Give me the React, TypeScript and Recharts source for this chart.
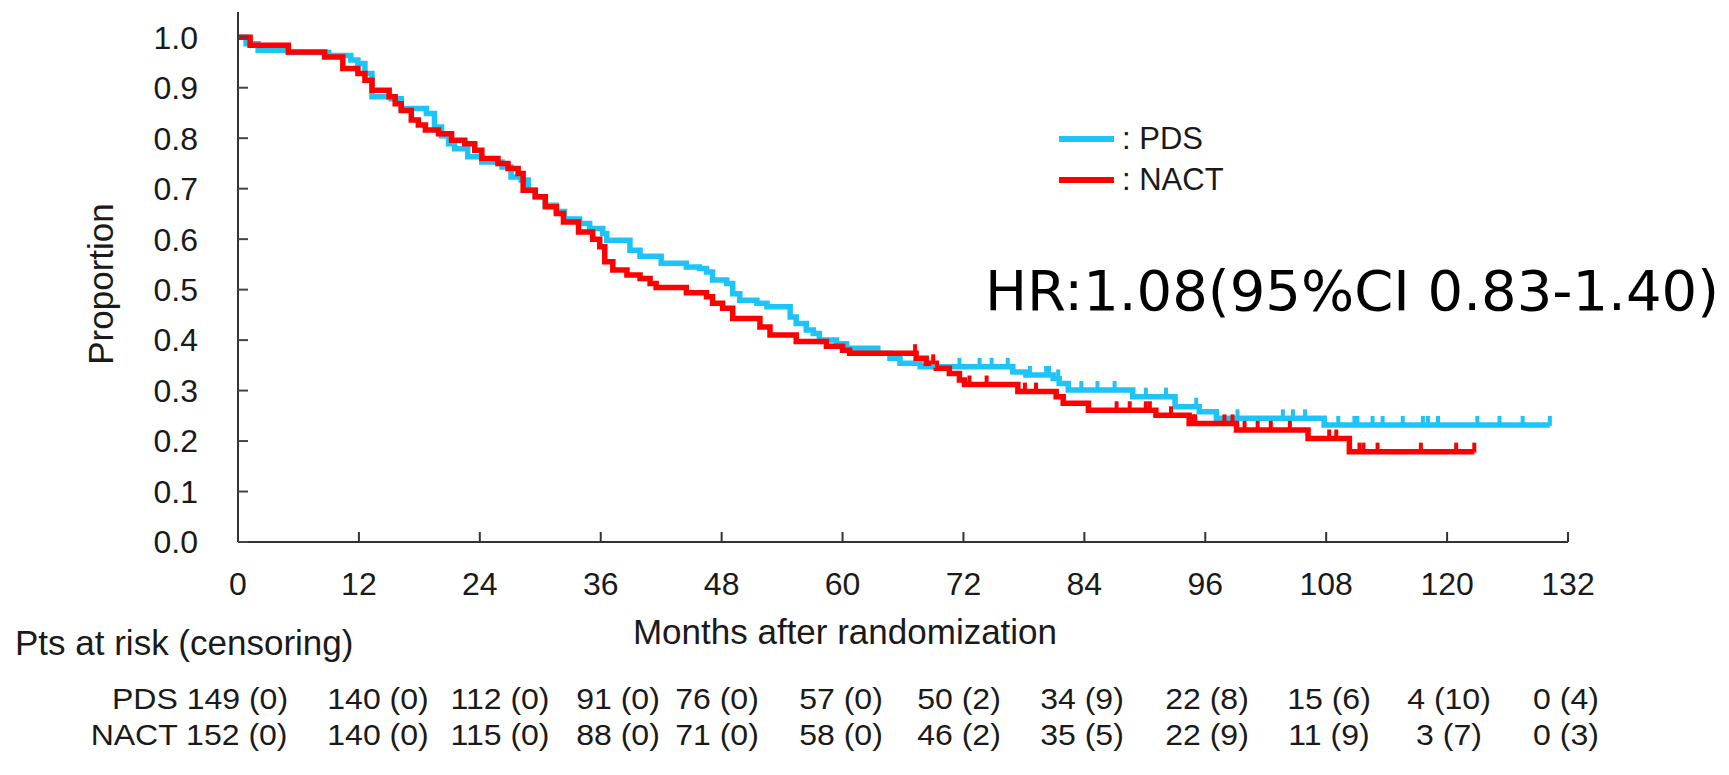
import { ComposedChart, Line, Scatter, XAxis, YAxis } from 'recharts'

// axis ticks
const monthTicks = [0, 12, 24, 36, 48, 60, 72, 84, 96, 108, 120, 132]
const propTicks = [0, 0.1, 0.2, 0.3, 0.4, 0.5, 0.6, 0.7, 0.8, 0.9, 1.0]

// PDS Kaplan-Meier steps (month, proportion)
const pdsTime = [0, 0.8, 2.0, 5.0, 9.0, 11.2, 11.9, 12.6, 13.3, 15.2, 16.2, 18.7, 19.5, 20.2, 20.9, 21.5, 22.8, 24.2, 26.2, 27.1, 28.1, 28.8, 29.5, 30.5, 31.6, 32.4, 33.9, 34.9, 36.2, 36.6, 38.9, 39.9, 42.0, 44.5, 45.8, 46.5, 47.1, 48.5, 49.1, 49.8, 51.5, 52.5, 54.8, 55.4, 56.4, 57.1, 57.7, 59.4, 60.4, 63.5, 64.7, 65.7, 67.7, 76.9, 78.2, 80.9, 81.5, 82.4, 88.8, 93.0, 95.4, 97.1, 107.8, 130.2]
const pdsSurv = [1.0, 0.987, 0.974, 0.970, 0.964, 0.955, 0.948, 0.928, 0.882, 0.878, 0.859, 0.849, 0.822, 0.805, 0.789, 0.779, 0.763, 0.753, 0.743, 0.723, 0.717, 0.697, 0.684, 0.667, 0.655, 0.640, 0.631, 0.621, 0.611, 0.598, 0.578, 0.566, 0.552, 0.545, 0.542, 0.535, 0.519, 0.512, 0.492, 0.479, 0.473, 0.466, 0.446, 0.433, 0.420, 0.413, 0.400, 0.393, 0.384, 0.374, 0.364, 0.354, 0.347, 0.337, 0.331, 0.324, 0.314, 0.301, 0.288, 0.268, 0.258, 0.245, 0.232, 0.232]
const pdsCensor = [69.0, 71.6, 73.6, 74.8, 76.4, 78.6, 80.2, 80.5, 81.4, 83.7, 85.3, 87.0, 90.1, 92.1, 95.1, 99.2, 103.7, 104.7, 105.9, 109.2, 110.8, 111.1, 112.6, 113.6, 115.6, 117.6, 118.1, 119.1, 123.0, 125.2, 127.5, 130.2]

// NACT
const nactTime = [0, 1.2, 5.0, 8.6, 10.4, 11.9, 12.6, 13.3, 15.0, 15.6, 16.2, 17.2, 17.9, 18.6, 19.9, 21.2, 22.5, 23.5, 24.2, 25.8, 26.8, 27.8, 28.3, 29.5, 30.5, 31.6, 32.3, 33.8, 35.2, 35.9, 36.4, 37.2, 38.6, 39.9, 40.9, 41.5, 44.5, 46.5, 47.1, 48.1, 49.1, 51.8, 52.8, 55.4, 58.4, 60.0, 60.7, 67.3, 68.3, 69.3, 70.6, 71.6, 72.1, 77.4, 81.2, 81.9, 84.4, 91.1, 94.4, 99.1, 106.2, 110.3, 122.7]
const nactSurv = [1.0, 0.984, 0.971, 0.961, 0.938, 0.928, 0.915, 0.895, 0.882, 0.868, 0.855, 0.836, 0.826, 0.816, 0.809, 0.796, 0.789, 0.776, 0.760, 0.750, 0.740, 0.730, 0.697, 0.684, 0.664, 0.651, 0.634, 0.614, 0.600, 0.585, 0.555, 0.539, 0.529, 0.522, 0.512, 0.504, 0.494, 0.486, 0.473, 0.463, 0.443, 0.426, 0.410, 0.397, 0.388, 0.380, 0.374, 0.364, 0.354, 0.344, 0.334, 0.321, 0.312, 0.298, 0.288, 0.275, 0.261, 0.251, 0.235, 0.222, 0.205, 0.179, 0.179]
const nactCensor = [67.2, 69.0, 72.6, 74.3, 78.1, 79.2, 87.2, 88.5, 90.1, 90.5, 92.6, 94.8, 95.0, 97.9, 98.7, 99.9, 101.2, 102.5, 104.4, 108.3, 109.0, 111.3, 111.7, 113.1, 117.4, 120.9, 122.7]

// numbers at risk (censoring) table
const pdsAtRisk = [149, 140, 112, 91, 76, 57, 50, 34, 22, 15, 4, 0]
const pdsCens = [0, 0, 0, 0, 0, 0, 2, 9, 8, 6, 10, 4]
const nactAtRisk = [152, 140, 115, 88, 71, 58, 46, 35, 22, 11, 3, 0]
const nactCens = [0, 0, 0, 0, 0, 0, 2, 5, 9, 9, 7, 3]

const BLUE = '#1ec4f7'
const RED = '#ff0000'
const INK = '#1a1a1a'
const FONT = '"Liberation Sans", Arial, sans-serif'

const W = 1729
const H = 775
const PLOT_LEFT = 238
const PLOT_RIGHT = 1568

// the risk-table columns in the original are not exactly under the ticks
const riskNudge = [0, 19, 20, 17, -5, -2, -4, -2, 2, 3, 2, -2]
const RISK_FONT = 30
const RISK_STRETCH = 1.067

function toPoints(t: number[], s: number[]) {
  return t.map((x, i) => ({ x, y: s[i] }))
}

// y of the step curve at month m
function survAt(t: number[], s: number[], m: number) {
  let v = s[0]
  for (let i = 0; i < t.length; i++) if (t[i] <= m) v = s[i]
  return v
}

const pdsData = toPoints(pdsTime, pdsSurv)
const nactData = toPoints(nactTime, nactSurv)
const pdsCensorData = pdsCensor.map(m => ({ x: m, y: survAt(pdsTime, pdsSurv, m) }))
const nactCensorData = nactCensor.map(m => ({ x: m, y: survAt(nactTime, nactSurv, m) }))

const censorMark = (color: string) => (props: any) => {
  const { cx, cy } = props
  if (cx == null || cy == null) return <g />
  return <line x1={cx} y1={cy + 1} x2={cx} y2={cy - 9} stroke={color} strokeWidth={4} />
}

function monthX(m: number) {
  return PLOT_LEFT + (m / 132) * (PLOT_RIGHT - PLOT_LEFT)
}

const txt = (extra: React.CSSProperties): React.CSSProperties => ({
  position: 'absolute',
  fontFamily: FONT,
  color: INK,
  lineHeight: 0.9,
  whiteSpace: 'nowrap',
  ...extra,
})

function RiskRow({ label, atRisk, cens, y }: { label: string; atRisk: number[]; cens: number[]; y: number }) {
  return (
    <>
      {atRisk.map((n, i) => {
        const s = `${n} (${cens[i]})`
        if (i === 0) {
          return (
            <div
              key={i}
              style={txt({
                fontSize: RISK_FONT,
                right: W - 288,
                top: y,
                transformOrigin: 'right center',
                transform: `translateY(-50%) scaleX(${RISK_STRETCH})`,
              })}
            >
              {label} {s}
            </div>
          )
        }
        return (
          <div
            key={i}
            style={txt({
              fontSize: RISK_FONT,
              left: monthX(monthTicks[i]) + riskNudge[i],
              top: y,
              transform: `translate(-50%, -50%) scaleX(${RISK_STRETCH})`,
            })}
          >
            {s}
          </div>
        )
      })}
    </>
  )
}

export default function App() {
  return (
    <div style={{ position: 'absolute', left: 0, top: 0, width: W, height: H, background: '#fff', overflow: 'hidden' }}>
      <ComposedChart width={W} height={H} margin={{ top: 12, right: W - PLOT_RIGHT, bottom: 173, left: 178 }}>
        <XAxis
          dataKey="x"
          type="number"
          domain={[0, 132]}
          ticks={monthTicks}
          interval={0}
          allowDataOverflow
          height={60}
          tickSize={-10}
          tickMargin={40}
          axisLine={{ stroke: '#333', strokeWidth: 2 }}
          tickLine={{ stroke: '#333', strokeWidth: 2 }}
          tick={{ fill: INK, fontSize: 32, fontFamily: FONT }}
        />
        <YAxis
          dataKey="y"
          type="number"
          domain={[0, 1.05]}
          ticks={propTicks}
          interval={0}
          allowDataOverflow
          width={60}
          tickSize={-10}
          tickMargin={50}
          tickFormatter={(v: number) => v.toFixed(1)}
          axisLine={{ stroke: '#333', strokeWidth: 2 }}
          tickLine={{ stroke: '#444', strokeWidth: 2 }}
          tick={{ fill: INK, fontSize: 32, fontFamily: FONT }}
        />
        <Line data={pdsData} dataKey="y" type="stepAfter" stroke={BLUE} strokeWidth={5.5} dot={false} isAnimationActive={false} />
        <Scatter data={pdsCensorData} dataKey="y" shape={censorMark(BLUE)} isAnimationActive={false} />
        <Line data={nactData} dataKey="y" type="stepAfter" stroke={RED} strokeWidth={5.5} dot={false} isAnimationActive={false} />
        <Scatter data={nactCensorData} dataKey="y" shape={censorMark(RED)} isAnimationActive={false} />
      </ComposedChart>

      {/* legend */}
      <div style={{ position: 'absolute', left: 1059, top: 136, width: 55, height: 6, background: BLUE }} />
      <div style={{ position: 'absolute', left: 1059, top: 177, width: 55, height: 6, background: RED }} />
      <div style={txt({ fontSize: 31, left: 1122, top: 139, transform: 'translateY(-50%)' })}>: PDS</div>
      <div style={txt({ fontSize: 31, left: 1122, top: 180, transform: 'translateY(-50%)' })}>: NACT</div>

      <div style={txt({ fontSize: 56, left: 985, top: 291, transform: 'translateY(-50%)', fontFamily: '"DejaVu Sans", sans-serif', color: '#000' })}>
        HR:1.08(95%CI 0.83-1.40)
      </div>

      {/* axis titles */}
      <div style={txt({ fontSize: 35, left: 101, top: 284, transform: 'translate(-50%, -50%) rotate(-90deg)' })}>Proportion</div>
      <div style={txt({ fontSize: 35, left: 845, top: 632, transform: 'translate(-50%, -50%)' })}>Months after randomization</div>

      {/* risk table */}
      <div style={txt({ fontSize: 35, left: 15, top: 643, transform: 'translateY(-50%)' })}>Pts at risk (censoring)</div>
      <RiskRow label="PDS" atRisk={pdsAtRisk} cens={pdsCens} y={698} />
      <RiskRow label="NACT" atRisk={nactAtRisk} cens={nactCens} y={734} />
    </div>
  )
}
